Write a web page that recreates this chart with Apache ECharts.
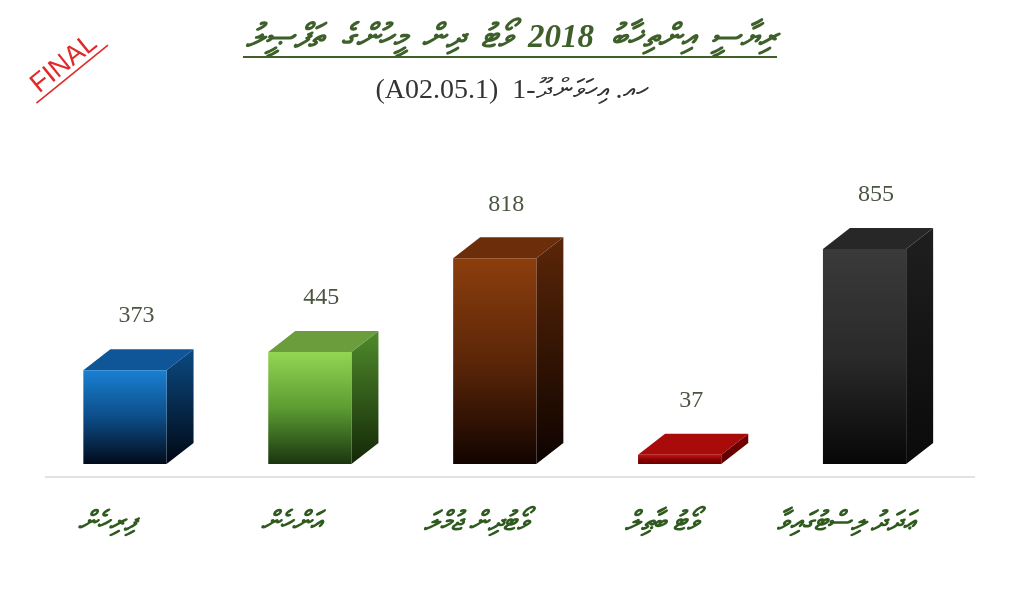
<!DOCTYPE html>
<html>
<head>
<meta charset="utf-8">
<script src="https://cdn.jsdelivr.net/npm/echarts@6/dist/echarts.min.js"></script>
<style>
html,body{margin:0;padding:0;background:#fff;}
#main{width:1024px;height:613px;}
</style>
</head>
<body>
<div id="main"></div>
<script>
// ---- data ----
var categories = ['ފިރިހެން', 'އަންހެން', 'ވޯޓުދިން ޖުމްލަ', 'ވޯޓު ބާޠިލް', 'ޢަދަދު ލިސްޓުގައިވާ'];
var values = [373, 445, 818, 37, 855];
var titleText = 'ރިޔާސީ  އިންތިޚާބު  2018  ވޯޓު  ދިން  މީހުންގެ  ތަފްޞީލު';
var subtitleText = 'ހއ. އިހަވަންދޫ-1  (A02.05.1)';
var stampText = 'FINAL';

// ---- styles ----
var palette = [
  {front:['#1a80d2','#0c4d88','#020b1a'], top:'#0e5697', side:['#0b4a82','#000814']},
  {front:['#93d553','#5c9c32','#1a3510'], top:'#6b9d3d', side:['#4f8b2b','#132707']},
  {front:['#8c3e0d','#5c2608','#120400'], top:'#6b2d0a', side:['#5b2608','#0d0300']},
  {front:['#c41212','#8a0202','#6a0000'], top:'#a90a0a', side:['#7a0000','#5a0000']},
  {front:['#3a3a3a','#2a2a2a','#070707'], top:'#272727', side:['#1f1f1f','#0a0a0a']}
];
var DX = 27, DY = 21;
var RLE = '\u202B', PDF = '\u202C';

function grad(c){
  return new echarts.graphic.LinearGradient(0,0,0,1,[
    {offset:0,color:c[0]},{offset:0.5,color:c[1]},{offset:1,color:c[2]}
  ]);
}
function grad2(c){
  return new echarts.graphic.LinearGradient(0,0,0,1,[
    {offset:0,color:c[0]},{offset:1,color:c[1]}
  ]);
}

var chart = echarts.init(document.getElementById('main'));
chart.setOption({
  backgroundColor:'#ffffff',
  animation:false,
  title:[{
    text:RLE + titleText + PDF,
    left:'center', top:17,
    textStyle:{fontFamily:'serif', fontSize:33, fontStyle:'italic', fontWeight:'bold', color:'#3d5f29'}
  },{
    text:RLE + subtitleText + PDF,
    left:'center', top:72,
    textStyle:{fontFamily:'Liberation Serif, serif', fontSize:28, fontWeight:'normal', color:'#333333'}
  }],
  graphic:[{
    type:'line',
    shape:{x1:243,y1:57,x2:777,y2:57},
    style:{stroke:'#3d5f29', lineWidth:2}
  },{
    type:'line',
    shape:{x1:45,y1:477,x2:975,y2:477},
    style:{stroke:'#d9d9d9', lineWidth:1.5}
  },{
    type:'group',
    x:64, y:64, rotation:39*Math.PI/180,
    children:[{
      type:'text',
      style:{text:stampText, x:0, y:0, align:'center', verticalAlign:'middle',
        font:'normal 27px "Liberation Sans", Arial, sans-serif', fill:'#e02a2a'}
    },{
      type:'line',
      shape:{x1:-46,y1:13,x2:46,y2:13},
      style:{stroke:'#e02a2a', lineWidth:1.6}
    }]
  }],
  grid:{left:32.5, right:67, top:212.5, bottom:149},
  xAxis:{
    type:'category',
    data:categories,
    axisLine:{show:false},
    axisTick:{show:false},
    axisLabel:{margin:46, padding:[0,36,0,0], fontFamily:'serif', fontSize:27, fontStyle:'italic', fontWeight:'bold', color:'#2f5a1f',
      formatter:function(v){ return RLE + v + PDF; }}
  },
  yAxis:{
    type:'value', min:0, max:1000, show:false,
    splitLine:{show:false}
  },
  series:[{
    type:'custom',
    data:values,
    renderItem:function(params, api){
      var idx = params.dataIndex;
      var v = api.value(1);
      var base = api.coord([idx, 0]);
      var topP = api.coord([idx, v]);
      var w = api.size([1,0])[0]*0.45;
      var x0 = base[0]-w/2, x1 = base[0]+w/2;
      var yb = base[1], yt = topP[1];
      var p = palette[idx % palette.length];
      return {
        type:'group',
        children:[{
          type:'polygon',
          shape:{points:[[x1,yt],[x1+DX,yt-DY],[x1+DX,yb-DY],[x1,yb]]},
          style:{fill:grad2(p.side)}
        },{
          type:'polygon',
          shape:{points:[[x0,yt],[x1,yt],[x1+DX,yt-DY],[x0+DX,yt-DY]]},
          style:{fill:p.top}
        },{
          type:'rect',
          shape:{x:x0, y:yt, width:w, height:yb-yt},
          style:{fill:grad(p.front)}
        },{
          type:'text',
          style:{text:String(v), x:(x0+x1+DX)/2-2, y:yt-DY-33, align:'center', verticalAlign:'middle',
            font:'normal 24px "Liberation Serif", "Times New Roman", serif', fill:'#4a5640'}
        }]
      };
    },
    encode:{x:0, y:1}
  }]
});
</script>
</body>
</html>
